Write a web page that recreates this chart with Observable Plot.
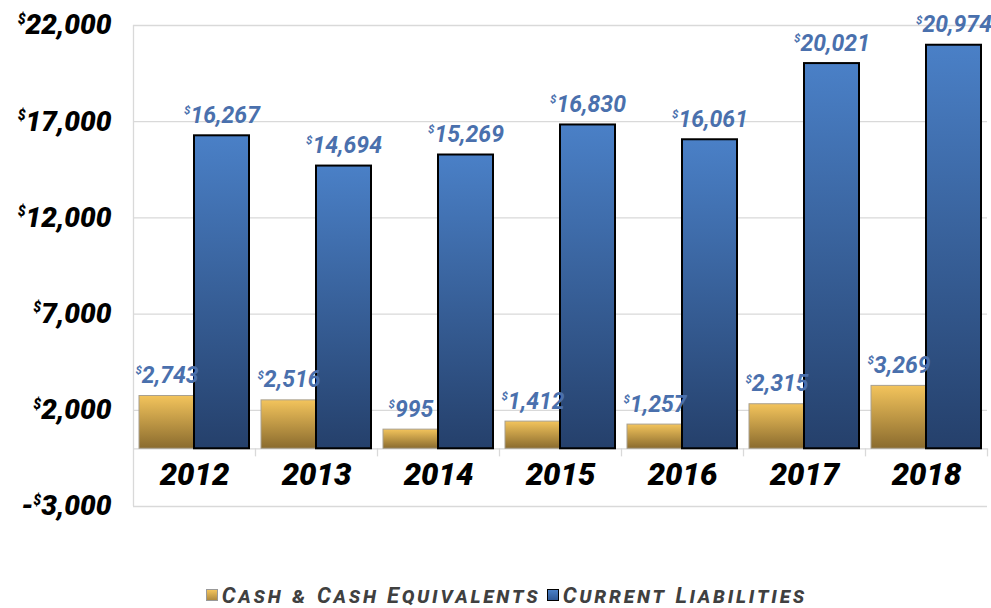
<!DOCTYPE html>
<html>
<head>
<meta charset="utf-8">
<script src="https://cdn.jsdelivr.net/npm/d3@7"></script>
<script src="https://cdn.jsdelivr.net/npm/@observablehq/plot@0.6"></script>
<style>
  html, body { margin: 0; padding: 0; background: #fff; }
  #chart { width: 991px; }
  .legend { display: flex; justify-content: center; align-items: center; height: 26px; padding-top: 22px; padding-left: 22px;
    font-family: Roboto, "DejaVu Sans", sans-serif; font-style: italic; font-weight: 700; font-variant: small-caps;
    font-size: 22px; letter-spacing: 2.8px; color: #404040; }
  .legend .sw { display: inline-block; width: 12px; height: 12px; margin-right: 4px; box-sizing: border-box; }
  .legend .item { display: inline-flex; align-items: center; margin: 0 3px; }
</style>
</head>
<body>
<div id="chart"></div>
<script>
const years = ["2012", "2013", "2014", "2015", "2016", "2017", "2018"];
const seriesNames = ["Cash & Cash Equivalents", "Current Liabilities"];
const cash = [2743, 2516, 995, 1412, 1257, 2315, 3269];
const liabilities = [16267, 14694, 15269, 16830, 16061, 20021, 20974];
const yTicks = [-3000, 2000, 7000, 12000, 17000, 22000];

const cashRows = years.map((y, i) => ({year: y, series: seriesNames[0], value: cash[i]}));
const liabRows = years.map((y, i) => ({year: y, series: seriesNames[1], value: liabilities[i]}));

const fmt = d3.format(",");
const fontFam = "Roboto, 'DejaVu Sans', sans-serif";
const grid = "#d9d9d9";

const plot = Plot.plot({
  width: 991,
  height: 560,
  marginTop: 25,
  marginBottom: 54,
  marginLeft: 130,
  marginRight: 1,
  style: {fontFamily: fontFam, background: "white"},
  fx: {domain: years, padding: 0, axis: null},
  x: {domain: seriesNames, paddingInner: 0, paddingOuter: 0.1, axis: null},
  y: {domain: [-3000, 22000], axis: null},
  marks: [
    Plot.ruleY(yTicks, {stroke: grid, strokeWidth: 1.3}),
    Plot.ruleY([0], {stroke: grid, strokeWidth: 1.3}),
    Plot.ruleX([years[0]], {fx: d => d, x: () => seriesNames[0], dx: -33.5, y1: yTicks[0], y2: yTicks[yTicks.length - 1], stroke: grid, strokeWidth: 1.3}),
    Plot.ruleX(years, {fx: d => d, x: () => seriesNames[1], dx: 33.5, y1: 0, y2: -420, stroke: grid, strokeWidth: 1.3}),
    Plot.barY(cashRows, {fx: "year", x: "series", y: "value", fill: "url(#gCash)", stroke: "#a8a090", strokeWidth: 1}),
    Plot.barY(liabRows, {fx: "year", x: "series", y: "value", fill: "url(#gLiab)", stroke: "#000", strokeWidth: 2}),
    Plot.text(cashRows.concat(liabRows), {
      fx: "year", x: "series", y: "value",
      text: d => "$" + fmt(d.value),
      lineAnchor: "bottom", dy: -13,
      fill: "#4a70ad", fontSize: 23, fontStyle: "italic", fontWeight: "bold",
      ariaDescription: "valuelabels"
    }),
    Plot.text(years, {fx: d => d, text: d => d, frameAnchor: "bottom", dy: -31, lineAnchor: "middle",
      fill: "#000", fontSize: 31, fontStyle: "italic", fontWeight: 900}),
    Plot.axisY({ticks: yTicks, tickSize: 0, tickPadding: 22, fontSize: 28, fontStyle: "italic", fontWeight: 900,
      label: null, tickFormat: d => (d < 0 ? "-" : "") + "$" + fmt(Math.abs(d)), color: "#000"})
  ]
});

const svg = d3.select(plot);
svg.insert("defs", ":first-child").html(`
  <linearGradient id="gCash" x1="0" y1="0" x2="0" y2="1">
    <stop offset="0" stop-color="#f3c45c"/>
    <stop offset="1" stop-color="#8a6b2e"/>
  </linearGradient>
  <linearGradient id="gLiab" x1="0" y1="0" x2="0" y2="1">
    <stop offset="0" stop-color="#4a80c7"/>
    <stop offset="1" stop-color="#25406b"/>
  </linearGradient>`);

function supDollar(sel, fs) {
  sel.each(function () {
    const t = this.textContent;
    const i = t.indexOf("$");
    if (i < 0) return;
    const pre = t.slice(0, i), post = t.slice(i + 1);
    const el = d3.select(this);
    el.text(null);
    if (pre) el.append("tspan").text(pre);
    el.append("tspan").attr("font-size", fs * 0.5).attr("dy", -fs * 0.38).text("$");
    el.append("tspan").attr("dy", fs * 0.38).text(post);
  });
}
supDollar(svg.selectAll('g[aria-description="valuelabels"] text'), 23);
supDollar(svg.selectAll('g[aria-label="y-axis tick label"] text'), 28);

document.getElementById("chart").appendChild(plot);

const legend = document.createElement("div");
legend.className = "legend";
legend.innerHTML = `
  <span class="item"><span class="sw" style="background:linear-gradient(#f3c45c,#b08a3e);border:1px solid #999"></span>${seriesNames[0]}</span>
  <span class="item"><span class="sw" style="background:linear-gradient(#4a80c7,#2f5896);border:1.5px solid #000"></span>${seriesNames[1]}</span>`;
document.getElementById("chart").appendChild(legend);
</script>
</body>
</html>
